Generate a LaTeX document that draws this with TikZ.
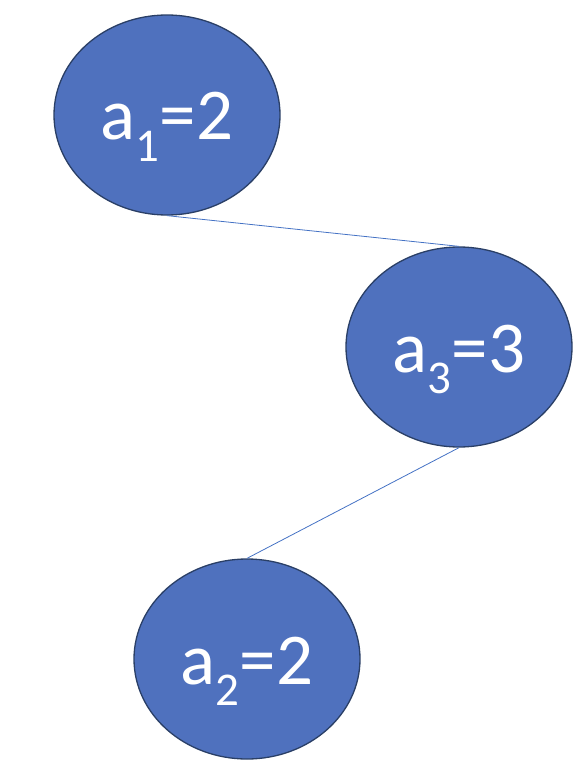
\documentclass[tikz,border=0pt]{standalone}
\usepackage{fontspec}
\setmainfont{Carlito}
\usetikzlibrary{shapes.geometric}
\definecolor{nodefill}{HTML}{4F71BE}
\definecolor{nodeedge}{HTML}{2A3F66}
\definecolor{linkcol}{HTML}{4472C4}
\newcommand{\lbl}[2]{\raisebox{-25pt}[0pt][0pt]{a\textsubscript{\fontsize{47}{47}\selectfont\raisebox{-0.33em}{#1}}=#2}}
\tikzset{
  valnode/.style={ellipse, draw=nodeedge, line width=1.3pt, fill=nodefill,
    minimum width=226pt, minimum height=200pt, inner sep=0pt,
    text=white, font=\fontsize{73}{73}\selectfont},
  link/.style={draw=linkcol, line width=0.8pt}
}
\begin{document}
\begin{tikzpicture}[x=1pt,y=-1pt]
\useasboundingbox (0,0) rectangle (588,770);
\node[valnode] (n1) at (167,115) {\lbl{1}{2}};
\node[valnode] (n2) at (459,347) {\lbl{3}{3}};
\node[valnode] (n3) at (247,659) {\lbl{2}{2}};
\draw[link] (n1.south) -- (n2.north);
\draw[link] (n2.south) -- (n3.north);
\end{tikzpicture}
\end{document}
